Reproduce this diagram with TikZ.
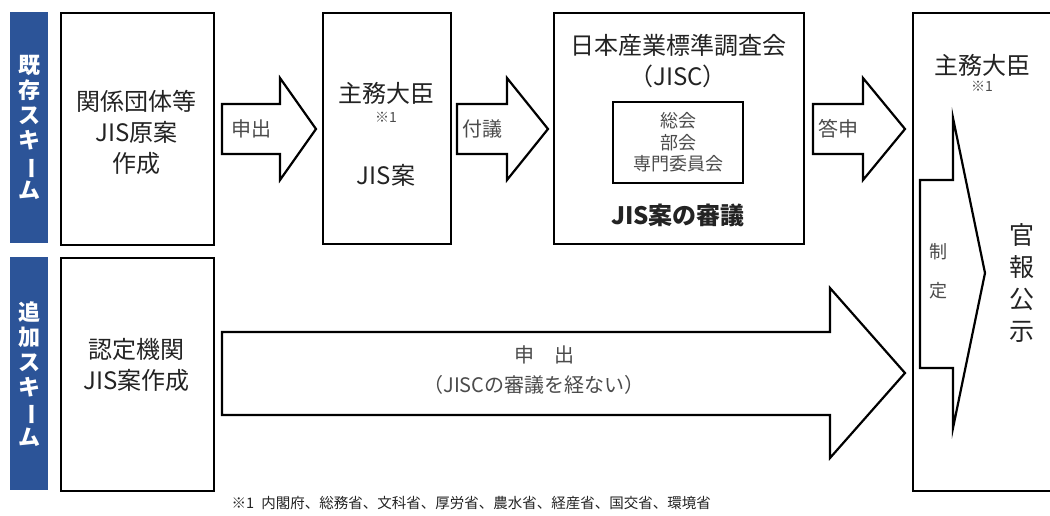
\documentclass[tikz,border=0pt]{standalone}
\usepackage{fontspec}
\usepackage{graphicx}
\setmainfont{Noto Sans CJK JP}
\definecolor{barblue}{RGB}{44,84,152}
\definecolor{inkgray}{RGB}{35,35,35}
\definecolor{labelgray}{RGB}{75,75,75}
\tikzset{
  box/.style={draw, line width=2.4pt, anchor=north west, inner sep=0pt},
  bar/.style={fill=barblue, anchor=north west, minimum width=38pt, inner sep=0pt,
    text=white, font=\fontsize{22}{25}\selectfont\bfseries, align=center},
  blockarrow/.style={draw, line width=2.2pt, fill=white, line join=miter},
  bigtext/.style={font=\fontsize{24}{31}\selectfont, text=inkgray, align=center},
  midtext/.style={font=\fontsize{20}{24}\selectfont, text=labelgray, align=center},
  smalltext/.style={font=\fontsize{14}{16}\selectfont, text=labelgray},
}
\newcommand{\tatebou}{\rotatebox[origin=c]{-90}{ー}}

\begin{document}
\begin{tikzpicture}[x=1pt,y=-1pt]
    \useasboundingbox (0,0) rectangle (1050,515);
    \clip (0,0) rectangle (1050,515);

    % scheme bars
    \node[bar, minimum height=231pt] (kizon) at (10,12) {既\\存\\ス\\キ\\\tatebou\\ム};
    \node[bar, minimum height=233pt] (tsuika) at (10,257) {追\\加\\ス\\キ\\\tatebou\\ム};

    % boxes
    \node[box, minimum width=153pt, minimum height=232pt] (kankei) at (60,12) {};
    \node[bigtext] at (136.5,132) {関係団体等\\JIS原案\\作成};
    \node[box, minimum width=128pt, minimum height=231pt] (shumu) at (322,12) {};
    \node[box, minimum width=250pt, minimum height=231pt] (jisc) at (553,12) {};
    \node[box, minimum width=160pt, minimum height=478pt] (kanpo) at (912,12) {};
    \node[box, minimum width=153pt, minimum height=233pt] (nintei) at (60,257) {};
    \node[bigtext] at (136.5,365) {認定機関\\JIS案作成};

    % shumu daijin
    \node[bigtext] (daijin1) at (386,93) {主務大臣};
    \node[smalltext] at (386,117) {※1};
    \node[bigtext] at (386,175) {JIS案};

    % JISC
    \node[bigtext] at (678,45) {日本産業標準調査会};
    \node[bigtext] at (678,76) {（JISC）};
    \node[draw, line width=2.2pt, minimum width=130pt, minimum height=81pt,
          font=\fontsize{18}{21.5}\selectfont, text=labelgray, align=center]
          (bukai) at (678,142.5) {総会\\部会\\専門委員会};
    \node[bigtext, font=\fontsize{24}{30}\selectfont\bfseries] at (678,215) {JIS案の審議};

    % right box
    \node[bigtext] (daijin2) at (982,65) {主務大臣};
    \node[smalltext] at (982,86) {※1};
    \draw[blockarrow] (920,180) -- (953,180) -- (953,118) -- (985,273)
        -- (953,428) -- (953,368) -- (920,368) -- cycle;
    \node[font=\fontsize{18}{39}\selectfont, text=labelgray, align=center] at (938,271) {制\\定};
    \node[font=\fontsize{25}{32}\selectfont, text=inkgray, align=center] at (1022,283) {官\\報\\公\\示};

    % arrows
    \draw[blockarrow] (222,104) -- (280,104) -- (280,78) -- (316,129)
        -- (280,180) -- (280,154) -- (222,154) -- cycle;
    \node[midtext] at (251,129) {申出};
    \draw[blockarrow] (457,104) -- (507,104) -- (507,78) -- (548,129)
        -- (507,180) -- (507,154) -- (457,154) -- cycle;
    \node[midtext] at (482,129) {付議};
    \draw[blockarrow] (813,104) -- (863,104) -- (863,78) -- (905,129)
        -- (863,180) -- (863,154) -- (813,154) -- cycle;
    \node[midtext] at (838,129) {答申};
    \draw[blockarrow] (222,332) -- (830,332) -- (830,288) -- (905,373)
        -- (830,458) -- (830,415) -- (222,415) -- cycle;
    \node[midtext] at (544,355) {申　出};
    \node[midtext] at (534,385) {（JISCの審議を経ない）};

    % footnote
    \node[font=\fontsize{14.5}{16}\selectfont, text=inkgray, anchor=west]
        at (228,503) {※1\enspace 内閣府、総務省、文科省、厚労省、農水省、経産省、国交省、環境省};
\end{tikzpicture}
\end{document}
